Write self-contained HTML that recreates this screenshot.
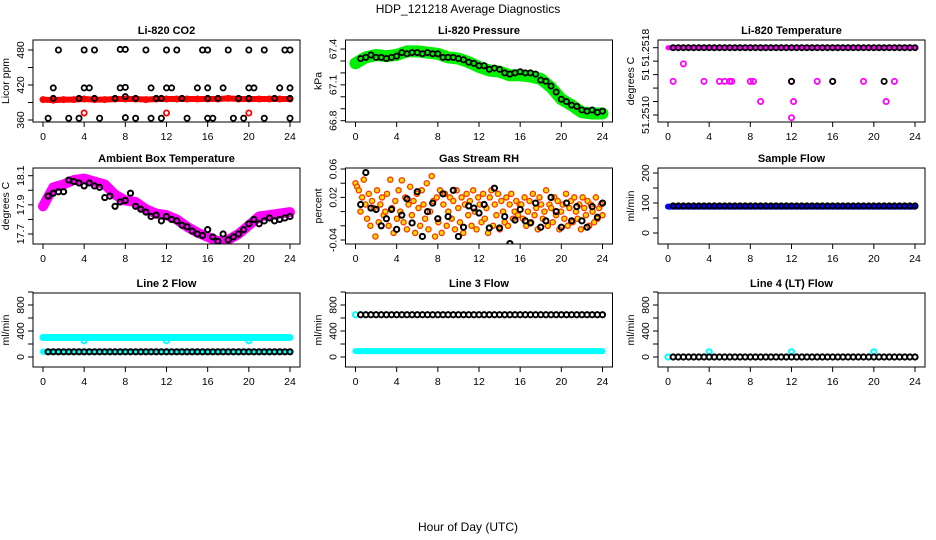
<!DOCTYPE html>
<html><head><meta charset="utf-8"><style>
body{margin:0;background:#fff}
svg{display:block;font-family:"Liberation Sans",sans-serif}
</style></head><body>
<svg id="c" width="936" height="540">
<text x="468" y="13" text-anchor="middle" font-size="12">HDP_121218  Average Diagnostics</text>
<text x="468" y="531" text-anchor="middle" font-size="12">Hour of Day (UTC)</text>
</svg>
<script>
// ---------- data ----------
const xTicks = [0,4,8,12,16,20,24];
const halfHours = [0.5,1,1.5,2,2.5,3,3.5,4,4.5,5,5.5,6,6.5,7,7.5,8,8.5,9,9.5,10,10.5,11,11.5,12,12.5,13,13.5,14,14.5,15,15.5,16,16.5,17,17.5,18,18.5,19,19.5,20,20.5,21,21.5,22,22.5,23,23.5,24];
const hourly = [0,1,2,3,4,5,6,7,8,9,10,11,12,13,14,15,16,17,18,19,20,21,22,23,24];

// CO2
const co2Red = [395,394,395,395,396,395,395,396,396,396,395,396,396,396,396,396,396,396,397,396,396,396,396,396,396];
const co2Hours = [1.5,4,5,7.5,8,10,12,13,15.5,16,18,20,21.5,23.5,24, 1,4,4.5,7.5,8,10.5,12,12.5,15,16,17.5,20,20.5,23,24, 1,3.5,5,7,8,9,11,11.5,13.5,16,17,19,20,22.5,24, 0.5,2.5,3.5,5.5,8,9,10.5,11.5,14,16,16.5,18.5,19.5,21.5,24];
const co2Vals = [480,480,480,481,481,480,480,480,480,480,480,480,480,480,480, 415,415,415,415,416,415,415,415,415,415,415,415,415,415,415, 397,397,397,397,400,397,397,397,397,397,397,397,397,397,397, 363,363,363,363,364,363,363,363,363,363,363,363,363,363,363];
const co2RedHours = [4,12,20];
const co2RedVals = [372,372,372];

// Pressure
const presBand = [67.28,67.33,67.35,67.34,67.35,67.38,67.38,67.37,67.36,67.33,67.32,67.29,67.25,67.22,67.21,67.18,67.18,67.17,67.15,67.08,66.98,66.93,66.87,66.86,66.86];
const presBlack = [67.32,67.33,67.35,67.33,67.33,67.32,67.33,67.34,67.37,67.36,67.37,67.37,67.36,67.37,67.36,67.36,67.33,67.33,67.33,67.32,67.31,67.29,67.28,67.26,67.26,67.23,67.24,67.23,67.2,67.19,67.2,67.21,67.2,67.2,67.19,67.14,67.13,67.09,67.04,66.98,66.96,66.93,66.92,66.89,66.88,66.89,66.87,66.88];

// Li-820 temperature
const ltBlackHours = [12,16,21];
const ltBlackVals = [51.25155,51.25155,51.25155];
const ltMagHours = [0.5,1.5,3.5,5,5.5,6,6.2,8,8.3,9,12,12.2,14.5,16,19,21.2,22];
const ltMagVals = [51.25155,51.25168,51.25155,51.25155,51.25155,51.25155,51.25155,51.25155,51.25155,51.2514,51.25155,51.2514,51.25155,51.25155,51.25155,51.2514,51.25155];
const ltTop = 51.2518;
const ltLowHours = [12];
const ltLowVals = [51.25128];

// Ambient
const ambBand = [17.89,18.02,18.04,18.07,18.08,18.06,18.04,17.97,17.93,17.92,17.87,17.84,17.83,17.8,17.75,17.71,17.68,17.65,17.66,17.7,17.76,17.82,17.83,17.84,17.85];
const ambBlack = [17.96,17.98,17.99,17.99,18.07,18.06,18.05,18.03,18.05,18.03,18.02,17.95,17.96,17.89,17.92,17.93,17.98,17.89,17.87,17.85,17.82,17.83,17.79,17.82,17.8,17.79,17.76,17.75,17.72,17.7,17.69,17.73,17.68,17.65,17.7,17.66,17.68,17.7,17.73,17.77,17.8,17.77,17.79,17.81,17.79,17.8,17.81,17.82];

// RH
const rhOrange = [0.04,0.035,0.03,0.0,0.02,0.045,0.01,-0.01,0.025,-0.02,0.015,0.005,-0.035,0.03,-0.015,0.01,0.02,-0.005,0.0,0.025,-0.02,0.045,0.005,-0.03,0.015,-0.01,0.03,0.0,0.044,-0.015,0.02,-0.025,0.01,0.035,-0.005,0.015,-0.03,0.025,0.005,-0.02,0.03,0.01,-0.01,0.04,-0.025,0.0,0.05,0.015,-0.035,0.02,-0.015,0.03,-0.03,0.01,0.025,-0.02,0.0,0.02,-0.01,0.015,-0.025,0.03,0.005,-0.015,0.02,-0.03,0.01,0.025,-0.005,0.015,-0.02,0.03,0.0,-0.025,0.02,0.01,-0.015,0.025,-0.01,0.005,-0.03,0.02,0.03,-0.02,0.01,-0.005,0.025,-0.025,0.015,0.0,-0.015,0.02,-0.02,0.01,0.025,-0.01,0.0,0.015,-0.005,0.01,
 0.01,-0.01,0.02,-0.02,0.0,0.015,-0.015,0.025,-0.005,0.005,-0.025,0.02,0.01,-0.01,0.0,0.03,-0.02,0.01,0.005,-0.015,0.02,-0.005,0.015,-0.025,0.0,0.01,-0.01,0.025,-0.02,0.005,0.015,-0.015,0.02,0.0,-0.01,0.01,-0.025,0.02,0.005,-0.005,0.015,-0.02,0.01,0.0,-0.015,0.02,-0.01,0.005,0.01,-0.005];
const rhBlack = [0.01,0.055,0.005,0.003,-0.02,-0.01,0.003,-0.025,-0.005,0.018,-0.016,0.028,-0.035,0.0,0.012,-0.01,0.025,-0.007,0.03,-0.035,-0.022,0.008,0.005,-0.002,0.01,-0.023,0.033,-0.023,-0.007,-0.045,-0.012,0.003,-0.013,-0.016,0.012,-0.022,-0.013,0.02,0.0,-0.022,0.012,-0.013,0.007,-0.013,-0.022,0.007,-0.008,0.012];

// Flows
const sfBlue = [88,88,88,88,88,88,88,88,88,88,88,88,88,88,88,88,88,88,88,88,88,88,88,88,88];
const sfBlack = [90,90,90,90,90,90,90,90,90,90,90,90,90,90,90,90,90,90,90,90,90,90,90,90,90,90,90,90,90,90,90,90,90,90,90,90,90,90,90,90,90,90,90,90,90,90,90,90];
const l2CyanHi = [300,300,300,300,300,300,300,300,300,300,300,300,300,300,300,300,300,300,300,300,300,300,300,300,300];
const l2CyanLo = [80,80,80,80,80,80,80,80,80,80,80,80,80,80,80,80,80,80,80,80,80,80,80,80,80];
const l2DipHours = [4,12,20];
const l2DipVals = [250,250,250];
const l2Black = [80,80,80,80,80,80,80,80,80,80,80,80,80,80,80,80,80,80,80,80,80,80,80,80,80,80,80,80,80,80,80,80,80,80,80,80,80,80,80,80,80,80,80,80,80,80,80,80];
const l3Cyan = [90,90,90,90,90,90,90,90,90,90,90,90,90,90,90,90,90,90,90,90,90,90,90,90,90];
const l3Black = [650,650,650,650,650,650,650,650,650,650,650,650,650,650,650,650,650,650,650,650,650,650,650,650,650,650,650,650,650,650,650,650,650,650,650,650,650,650,650,650,650,650,650,650,650,650,650,650];
const l3CyanStartHours = [0];
const l3CyanStartVals = [650];
const l4CyanHours = [0,4,12,20];
const l4CyanVals = [0,80,80,80];
const l4Black = [0,0,0,0,0,0,0,0,0,0,0,0,0,0,0,0,0,0,0,0,0,0,0,0,0,0,0,0,0,0,0,0,0,0,0,0,0,0,0,0,0,0,0,0,0,0,0,0];

// ---------- drawing ----------
const NS = "http://www.w3.org/2000/svg";
const svg = document.getElementById('c');
function mk(tag, attrs, parent){ const e=document.createElementNS(NS,tag); for(const k in attrs) e.setAttribute(k,attrs[k]); (parent||svg).appendChild(e); return e; }

const rowsY = [[40,122],[168,244],[293,367]];
function panel(col,row,title,ylab,v1,p1,v2,p2,ticks,tickLabels){
  const x0 = 43 + col*312.5, x24 = x0+247;
  const box = {l:x0-10, r:x24+10, t:rowsY[row][0], b:rowsY[row][1]};
  const g = mk('g',{});
  
  
  const X = h => x0 + h*247/24;
  const Y = v => p1 + (v-v1)*(p2-p1)/(v2-v1);
  const t = mk('text',{x:(box.l+box.r)/2, y:box.t-6, 'text-anchor':'middle','font-size':11,'font-weight':'bold'},g);
  t.textContent = title;
  
  
  const xa = mk('g',{},g);
  
  
  mk('line',{x1:X(0),x2:X(24),y1:box.b,y2:box.b,stroke:'#000'},xa);
  xTicks.forEach(h=>{
    mk('line',{x1:X(h),x2:X(h),y1:box.b,y2:box.b+5,stroke:'#000'},xa);
    const l = mk('text',{x:X(h),y:box.b+18,'text-anchor':'middle','font-size':10.5},xa);
    l.textContent = h;
    
    
  });
  const ya = mk('g',{},g);
  
  
  mk('line',{x1:box.l,x2:box.l,y1:Y(ticks[0]),y2:Y(ticks[ticks.length-1]),stroke:'#000'},ya);
  ticks.forEach((v,i)=>{
    const y = Y(v);
    mk('line',{x1:box.l-5,x2:box.l,y1:y,y2:y,stroke:'#000'},ya);
    if(tickLabels[i]){
      const l = mk('text',{x:box.l-9,y:y,'text-anchor':'middle','font-size':10.5,transform:`rotate(-90 ${box.l-9} ${y})`},ya);
      l.textContent = tickLabels[i];
      
      
    }
  });
  const yl = mk('text',{x:box.l-24,y:(box.t+box.b)/2,'text-anchor':'middle','font-size':10.5,transform:`rotate(-90 ${box.l-24} ${(box.t+box.b)/2})`},g);
  yl.textContent = ylab;
  
  
  const clipId = 'clip'+col+row;
  const cp = mk('clipPath',{id:clipId},g);
  mk('rect',{x:box.l,y:box.t,width:box.r-box.l,height:box.b-box.t},cp);
  const plot = mk('g',{'clip-path':`url(#${clipId})`},g);
  
  
  const frame = mk('rect',{x:box.l,y:box.t,width:box.r-box.l,height:box.b-box.t,fill:'none',stroke:'#000'},g);
  
  
  return {X,Y,plot};
}
function band(p,hours,vals,color,w,name){
  const pts = hours.map((h,i)=>p.X(h)+','+p.Y(vals[i])).join(' ');
  const pl = mk('polyline',{points:pts,fill:'none',stroke:color,'stroke-width':w,'stroke-linejoin':'round','stroke-linecap':'round'},p.plot);
  
  
}
function circles(p,hours,vals,color,name,fill,sw){
  hours.forEach((h,i)=>{
    const c = mk('circle',{cx:p.X(h),cy:p.Y(vals[i]),r:2.6,fill:fill||'none',stroke:color,'stroke-width':sw||1.8},p.plot);
    
    
  });
}

let p = panel(0,0,'Li-820 CO2','Licor ppm',360,120,480,50,[360,390,420,450,480],['360','','420','','480']);
band(p,hourly,co2Red,'#ff0000',6,'co2-red-band');
circles(p,hourly,co2Red,'#ff0000','co2-red-point');
circles(p,co2RedHours,co2RedVals,'#ff0000','co2-red-outlier');
circles(p,co2Hours,co2Vals,'#000','co2-black-point');

p = panel(1,0,'Li-820 Pressure','kPa',66.8,120.7,67.4,49,[66.8,66.9,67.0,67.1,67.2,67.3,67.4],['66.8','','','67.1','','','67.4']);
band(p,hourly,presBand,'#00ee00',12,'pressure-green-band');
circles(p,halfHours,presBlack,'#000','pressure-black-point');

p = panel(2,0,'Li-820 Temperature','degrees C',51.2513,115,51.2518,47.7,[51.2518,51.2517,51.2516,51.2515,51.2514,51.2513],['51.2518','','51','','','51.2510']);
const ltTopVals = hourly.map(()=>ltTop);
band(p,hourly,ltTopVals,'#ff00ff',5,'temp-magenta-band');
circles(p,halfHours,halfHours.map(()=>ltTop),'#000','temp-black-point');
circles(p,ltMagHours,ltMagVals,'#ff00ff','temp-magenta-point');
circles(p,ltLowHours,ltLowVals,'#ff00ff','temp-magenta-low');
circles(p,ltBlackHours,ltBlackVals,'#000','temp-black-outlier');

p = panel(0,1,'Ambient Box Temperature','degrees C',17.7,234,18.1,175.7,[17.7,17.8,17.9,18.0,18.1],['17.7','','17.9','','18.1']);
band(p,hourly,ambBand,'#ff00ff',10,'ambient-magenta-band');
circles(p,halfHours,ambBlack,'#000','ambient-black-point',null,2);

p = panel(1,1,'Gas Stream RH','percent',-0.04,240,0.06,169,[-0.04,-0.02,0,0.02,0.04,0.06],['-0.04','','','0.02','','0.06']);
const rhHours = rhOrange.map((v,i)=>i*24/(rhOrange.length-1));
circles(p,rhHours,rhOrange,'#ff3300','rh-orange-point','#ffdd00',1.3);
circles(p,halfHours,rhBlack,'#000','rh-black-point',null,2);

p = panel(2,1,'Sample Flow','ml/min',0,233,200,173,[0,50,100,150,200],['0','','100','','200']);
band(p,hourly,sfBlue,'#0000ff',6,'sample-flow-blue-band');
circles(p,halfHours,sfBlack,'#000','sample-flow-black-point',null,2);

p = panel(0,2,'Line 2 Flow','ml/min',0,357,800,305,[0,200,400,600,800,1000],['0','','400','','800','']);
band(p,hourly,l2CyanHi,'#00ffff',7,'line2-cyan-high-band');
band(p,hourly,l2CyanLo,'#00ffff',6,'line2-cyan-low-band');
circles(p,l2DipHours,l2DipVals,'#00ffff','line2-cyan-dip',null,2);
circles(p,halfHours,l2Black,'#000','line2-black-point',null,2);

p = panel(1,2,'Line 3 Flow','ml/min',0,357,800,305,[0,200,400,600,800,1000],['0','','400','','800','']);
band(p,hourly,l3Cyan,'#00ffff',6,'line3-cyan-band');
circles(p,l3CyanStartHours,l3CyanStartVals,'#00ffff','line3-cyan-start',null,2);
circles(p,halfHours,l3Black,'#000','line3-black-point',null,2);

p = panel(2,2,'Line 4 (LT) Flow','ml/min',0,357,800,305,[0,200,400,600,800,1000],['0','','400','','800','']);
circles(p,l4CyanHours,l4CyanVals,'#00ffff','line4-cyan-point',null,2);
circles(p,halfHours,l4Black,'#000','line4-black-point',null,2);
</script>
</body></html>
